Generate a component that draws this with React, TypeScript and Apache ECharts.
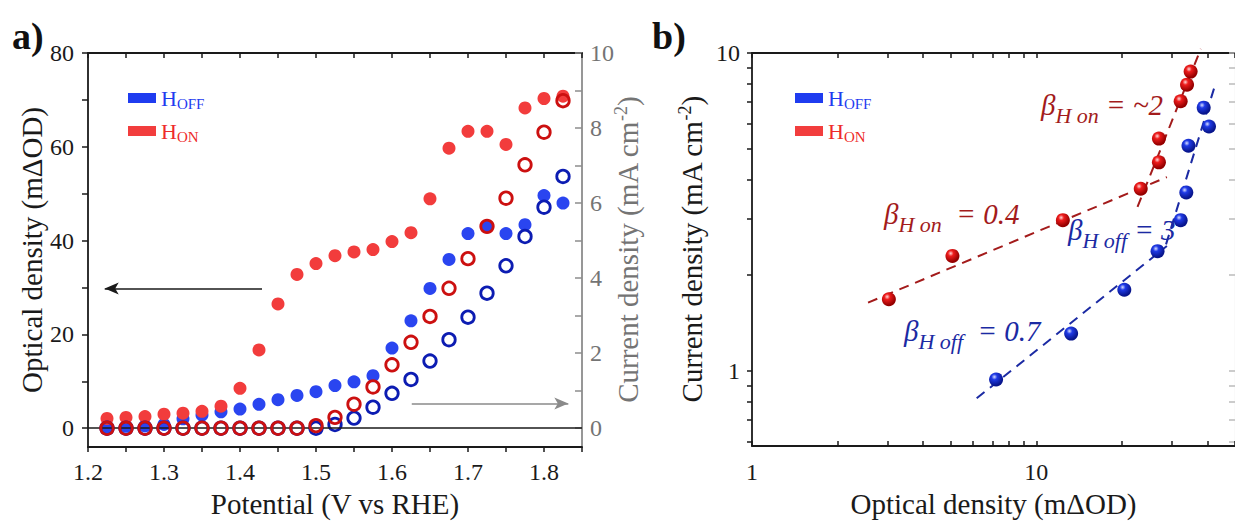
import React, { useEffect, useRef } from 'react';
import * as echarts from 'echarts';

const SERIF = '"Liberation Serif", "Times New Roman", serif';

// ---------- Panel a data ----------
const potential = [1.225, 1.25, 1.275, 1.3, 1.325, 1.35, 1.375, 1.4, 1.425, 1.45, 1.475, 1.5, 1.525, 1.55, 1.575, 1.6, 1.625, 1.65, 1.675, 1.7, 1.725, 1.75, 1.775, 1.8, 1.825];
const odOff = [0.3, 0.4, 0.5, 0.8, 2.0, 2.8, 3.5, 4.1, 5.1, 6.1, 7.0, 7.8, 9.1, 9.9, 11.2, 17.1, 22.9, 29.8, 36.0, 41.5, 43.0, 41.5, 43.4, 49.6, 48.0];
const odOn = [2.1, 2.3, 2.5, 3.0, 3.2, 3.6, 4.7, 8.5, 16.7, 26.5, 32.8, 35.1, 36.8, 37.6, 38.1, 39.8, 41.7, 48.9, 59.7, 63.3, 63.3, 60.5, 68.3, 70.3, 70.8];
const jOff = [0, 0, 0, 0, 0, 0, 0, 0, 0, 0, 0, 0, 0.1, 0.27, 0.56, 0.93, 1.3, 1.79, 2.36, 2.96, 3.6, 4.33, 5.11, 5.89, 6.71];
const jOn = [0, 0, 0, 0, 0, 0, 0, 0, 0, 0, 0, 0.07, 0.29, 0.64, 1.1, 1.69, 2.29, 2.98, 3.73, 4.52, 5.38, 6.13, 7.02, 7.89, 8.73];

const potTicks = [1.2, 1.25, 1.3, 1.35, 1.4, 1.45, 1.5, 1.55, 1.6, 1.65, 1.7, 1.75, 1.8, 1.85];
const potLabels = [1.2, 1.3, 1.4, 1.5, 1.6, 1.7, 1.8];
const odTicksA = [0, 10, 20, 30, 40, 50, 60, 70, 80];
const odLabelsA = [0, 20, 40, 60, 80];
const jTicksA = [0, 1, 2, 3, 4, 5, 6, 7, 8, 9, 10];
const jLabelsA = [0, 2, 4, 6, 8, 10];

// arrows (data coordinates)
const arrowLeft = [[1.429, 29.8], [1.222, 29.8]];
const arrowRight = [[1.626, 0.66], [1.832, 0.66]];

// ---------- Panel b data ----------
const odOnB = [3.03, 5.07, 12.4, 23.3, 27.0, 27.0, 32.2, 33.9, 34.9];
const jOnB = [1.68, 2.3, 2.98, 3.74, 4.53, 5.38, 7.05, 7.95, 8.74];
const odOffB = [7.22, 13.26, 20.4, 26.7, 32.2, 33.7, 34.3, 40.5, 38.8];
const jOffB = [0.94, 1.31, 1.8, 2.38, 2.98, 3.64, 5.11, 5.87, 6.73];

const fitOnLow = [[2.56, 1.64], [28.8, 4.07]];
const fitOnHigh = [[22.7, 3.28], [37.9, 10.3]];
const fitOffLow = [[6.17, 0.82], [28.8, 2.47]];
const fitOffHigh = [[28.6, 2.5], [42.5, 7.9]];

const odTicksB = [1, 2, 3, 4, 5, 6, 7, 8, 9, 10, 20, 30, 40, 50];
const odLabelsB = [1, 10];
const jTicksB = [0.6, 0.7, 0.8, 0.9, 1, 2, 3, 4, 5, 6, 7, 8, 9, 10];
const jLabelsB = [1, 10];

const BLUE = '#2a45f0';
const RED = '#f23c3c';
const BLUE_O = '#0c1cb2';
const RED_O = '#cc1010';
const DRED = '#a31b1b';
const DBLUE = '#1b2aa3';
const INK = '#1a1a1a';
const GRAY = '#747474';

const pair = (xs: number[], ys: number[]) => xs.map((x, i) => [x, ys[i]]);

const sphere = (hi: string, mid: string, dark: string) => ({
  type: 'radial', x: 0.38, y: 0.32, r: 0.72,
  colorStops: [
    { offset: 0, color: hi },
    { offset: 0.28, color: mid },
    { offset: 0.85, color: dark },
    { offset: 1, color: dark },
  ],
});

const tickLabel = { fontSize: 24, fontFamily: SERIF, color: INK };
const axisLine = { show: true, onZero: false, lineStyle: { color: INK, width: 1.8 } };
const tickStyle = { color: INK, width: 1.5 };
const titleStyle = { fontSize: 29, fontFamily: SERIF, color: INK };

const legendRich = {
  hB: { fontSize: 22, fontFamily: SERIF, color: '#1f3cf0', lineHeight: 26, verticalAlign: 'middle' },
  sB: { fontSize: 15, fontFamily: SERIF, color: '#1f3cf0', lineHeight: 14, verticalAlign: 'bottom' },
  hR: { fontSize: 22, fontFamily: SERIF, color: '#ee2a2a', lineHeight: 26, verticalAlign: 'middle' },
  sR: { fontSize: 15, fontFamily: SERIF, color: '#ee2a2a', lineHeight: 14, verticalAlign: 'bottom' },
};
const legendFmt = (n: string) => (n === 'H_OFF' ? '{hB|H}{sB|OFF}' : '{hR|H}{sR|ON}');

const annot = (x: number, y: number, sub: string, rest: string, color: string) => ({
  type: 'text', x, y, z: 50,
  style: {
    text: `{b|β}{s|${sub}}{e|${rest}}`,
    verticalAlign: 'middle',
    fill: color,
    rich: {
      b: { fontSize: 29, fontStyle: 'italic', fontFamily: SERIF, fill: color, color, lineHeight: 42, verticalAlign: 'middle' },
      s: { fontSize: 22, fontStyle: 'italic', fontFamily: SERIF, fill: color, color, lineHeight: 22, verticalAlign: 'bottom' },
      e: { fontSize: 29, fontStyle: 'italic', fontFamily: SERIF, fill: color, color, lineHeight: 42, verticalAlign: 'middle' },
    },
  },
});

export default function App() {
  const ref = useRef<HTMLDivElement>(null);
  useEffect(() => {
    if (!ref.current) return;
    const chart = echarts.init(ref.current, undefined, { renderer: 'svg' });
    const legendBase = {
      orient: 'vertical', icon: 'rect', itemWidth: 28, itemHeight: 10, itemGap: 9,
      selectedMode: false, formatter: legendFmt, textStyle: { rich: legendRich },
      data: [{ name: 'H_OFF', itemStyle: { color: '#1f3cf0' } }, { name: 'H_ON', itemStyle: { color: '#f23d3d' } }],
    };
    const option: any = {
      animation: false,
      backgroundColor: '#ffffff',
      grid: [
        { left: 88, top: 53, width: 494, height: 397 },
        { left: 752, top: 53, width: 484, height: 397 },
      ],
      legend: [
        { ...legendBase, left: 123, top: 82 },
        { ...legendBase, left: 790, top: 82 },
      ],
      xAxis: [
        {
          type: 'value', gridIndex: 0, position: 'bottom', min: 1.2, max: 1.85,
          axisLine, splitLine: { show: false },
          axisTick: { show: true, inside: false, length: 5, customValues: potTicks, lineStyle: tickStyle },
          axisLabel: { ...tickLabel, margin: 13, customValues: potLabels, formatter: (v: number) => v.toFixed(1) },
          name: 'Potential (V vs RHE)', nameLocation: 'middle', nameGap: 42, nameTextStyle: titleStyle,
        },
        {
          type: 'value', gridIndex: 0, position: 'top', min: 1.2, max: 1.85,
          axisLine, splitLine: { show: false },
          axisTick: { show: true, inside: true, length: 5, customValues: potTicks, lineStyle: tickStyle },
          axisLabel: { show: false },
        },
        {
          type: 'log', logBase: 10, gridIndex: 1, position: 'bottom', min: 1, max: 50,
          axisLine, splitLine: { show: false }, minorTick: { show: false },
          axisTick: { show: true, inside: true, length: 5, customValues: odTicksB, lineStyle: tickStyle },
          axisLabel: { ...tickLabel, margin: 14, customValues: odLabelsB },
          name: 'Optical density (mΔOD)', nameLocation: 'middle', nameGap: 42, nameTextStyle: titleStyle,
        },
        {
          type: 'log', logBase: 10, gridIndex: 1, position: 'top', min: 1, max: 50,
          axisLine, splitLine: { show: false },
          axisTick: { show: true, inside: true, length: 5, customValues: odTicksB, lineStyle: tickStyle },
          axisLabel: { show: false },
        },
      ],
      yAxis: [
        {
          type: 'value', gridIndex: 0, position: 'left', min: -4, max: 80,
          axisLine, splitLine: { show: false },
          axisTick: { show: true, inside: false, length: 6, customValues: odTicksA, lineStyle: tickStyle },
          axisLabel: { ...tickLabel, margin: 14, customValues: odLabelsA },
          name: 'Optical density (mΔOD)', nameLocation: 'middle', nameRotate: 90, nameGap: 40, nameTextStyle: titleStyle,
        },
        {
          type: 'value', gridIndex: 0, position: 'right', min: -0.5, max: 10,
          axisLine: { show: true, onZero: false, lineStyle: { color: '#8c8c8c', width: 1.8 } },
          splitLine: { show: false },
          axisTick: { show: true, inside: true, length: 7, customValues: jTicksA, lineStyle: { color: '#8c8c8c', width: 1.5 } },
          axisLabel: { ...tickLabel, color: GRAY, margin: 8, customValues: jLabelsA },
          name: '{t|Current density (mA cm}{p|-2}{t|)}', nameLocation: 'middle', nameRotate: 90, nameGap: 30,
          nameMoveOverlap: false,
          nameTextStyle: {
            color: GRAY,
            rich: {
              t: { fontSize: 29, fontFamily: SERIF, color: GRAY, lineHeight: 32, verticalAlign: 'middle' },
              p: { fontSize: 18, fontFamily: SERIF, color: GRAY, lineHeight: 20, verticalAlign: 'top' },
            },
          },
        },
        {
          type: 'log', logBase: 10, gridIndex: 1, position: 'left', min: 0.58, max: 10,
          axisLine, splitLine: { show: false },
          axisTick: { show: true, inside: false, length: 5, customValues: jTicksB, lineStyle: tickStyle },
          axisLabel: { ...tickLabel, margin: 12, customValues: jLabelsB },
          name: '{t|Current density (mA cm}{p|-2}{t|)}', nameLocation: 'middle', nameRotate: 90, nameGap: 44,
          nameTextStyle: {
            color: INK,
            rich: {
              t: { fontSize: 29, fontFamily: SERIF, color: INK, lineHeight: 32, verticalAlign: 'middle' },
              p: { fontSize: 18, fontFamily: SERIF, color: INK, lineHeight: 20, verticalAlign: 'top' },
            },
          },
        },
        {
          type: 'log', logBase: 10, gridIndex: 1, position: 'right', min: 0.58, max: 10,
          axisLine: { show: true, onZero: false, lineStyle: { color: '#cccccc', width: 1.2 } },
          splitLine: { show: false },
          axisTick: { show: true, inside: true, length: 6, customValues: jTicksB, lineStyle: { color: '#bbbbbb', width: 1.5 } },
          axisLabel: { show: false },
        },
      ],
      series: [
        {
          name: 'H_OFF', type: 'scatter', xAxisIndex: 0, yAxisIndex: 0, z: 2,
          data: pair(potential, odOff), symbolSize: 13, itemStyle: { color: BLUE, opacity: 1 },
          markLine: {
            silent: true, animation: false, symbol: ['none', 'none'], label: { show: false },
            lineStyle: { type: 'solid', color: INK, width: 1.6 },
            data: [{ yAxis: 0 }],
          },
        },
        {
          name: 'H_ON', type: 'scatter', xAxisIndex: 0, yAxisIndex: 0, z: 3,
          data: pair(potential, odOn), symbolSize: 13, itemStyle: { color: RED, opacity: 1 },
          markLine: {
            silent: true, animation: false, label: { show: false },
            symbol: ['none', 'arrow'], symbolSize: [9, 14],
            lineStyle: { type: 'solid', color: INK, width: 1.6 },
            data: [[{ coord: arrowLeft[0] }, { coord: arrowLeft[1] }]],
          },
        },
        {
          name: 'H_OFF j', type: 'scatter', xAxisIndex: 0, yAxisIndex: 1, z: 4,
          data: pair(potential, jOff), symbol: 'circle', symbolSize: 12.5,
          itemStyle: { color: 'rgba(255,255,255,0)', borderColor: BLUE_O, borderWidth: 2.8, opacity: 1 },
        },
        {
          name: 'H_ON j', type: 'scatter', xAxisIndex: 0, yAxisIndex: 1, z: 5,
          data: pair(potential, jOn), symbol: 'circle', symbolSize: 12.5,
          itemStyle: { color: 'rgba(255,255,255,0)', borderColor: RED_O, borderWidth: 2.8, opacity: 1 },
          markLine: {
            silent: true, animation: false, label: { show: false },
            symbol: ['none', 'arrow'], symbolSize: [9, 14],
            lineStyle: { type: 'solid', color: '#8a8a8a', width: 1.6 },
            data: [[{ coord: arrowRight[0] }, { coord: arrowRight[1] }]],
          },
        },
        {
          name: 'fit on low', type: 'line', xAxisIndex: 2, yAxisIndex: 2, z: 2, clip: false,
          data: fitOnLow, symbol: 'none', lineStyle: { color: DRED, width: 2, type: [10, 7] },
        },
        {
          name: 'fit on high', type: 'line', xAxisIndex: 2, yAxisIndex: 2, z: 2, clip: false,
          data: fitOnHigh, symbol: 'none', lineStyle: { color: DRED, width: 2, type: [10, 7] },
        },
        {
          name: 'fit off low', type: 'line', xAxisIndex: 2, yAxisIndex: 2, z: 2, clip: false,
          data: fitOffLow, symbol: 'none', lineStyle: { color: DBLUE, width: 2, type: [10, 7] },
        },
        {
          name: 'fit off high', type: 'line', xAxisIndex: 2, yAxisIndex: 2, z: 2, clip: false,
          data: fitOffHigh, symbol: 'none', lineStyle: { color: DBLUE, width: 2, type: [10, 7] },
        },
        {
          name: 'H_OFF', type: 'scatter', xAxisIndex: 2, yAxisIndex: 2, z: 6,
          data: pair(odOffB, jOffB), symbolSize: 14,
          itemStyle: { color: sphere('#d8deff', '#1f3ae6', '#08158c'), opacity: 1 },
        },
        {
          name: 'H_ON', type: 'scatter', xAxisIndex: 2, yAxisIndex: 2, z: 6,
          data: pair(odOnB, jOnB), symbolSize: 14,
          itemStyle: { color: sphere('#ffd6d6', '#ee1c1c', '#950000'), opacity: 1 },
        },
      ],
      graphic: [
        { type: 'text', x: 12, y: 17, style: { text: 'a)', fontSize: 38, fontWeight: 'bold', fontFamily: SERIF, fill: '#111' } },
        { type: 'text', x: 652, y: 17, style: { text: 'b)', fontSize: 38, fontWeight: 'bold', fontFamily: SERIF, fill: '#111' } },
        annot(1041, 105, 'H on', ' = ~2', DRED),
        annot(884, 214, 'H on', '  = 0.4', DRED),
        annot(1068, 230, 'H off', ' = 3', DBLUE),
        annot(904, 331, 'H off', '  = 0.7', DBLUE),
      ],
    };
    chart.setOption(option);
    return () => chart.dispose();
  }, []);
  return (
    <div
      ref={ref}
      style={{ position: 'fixed', left: 0, top: 0, width: 1235, height: 523, background: '#fff' }}
    />
  );
}
